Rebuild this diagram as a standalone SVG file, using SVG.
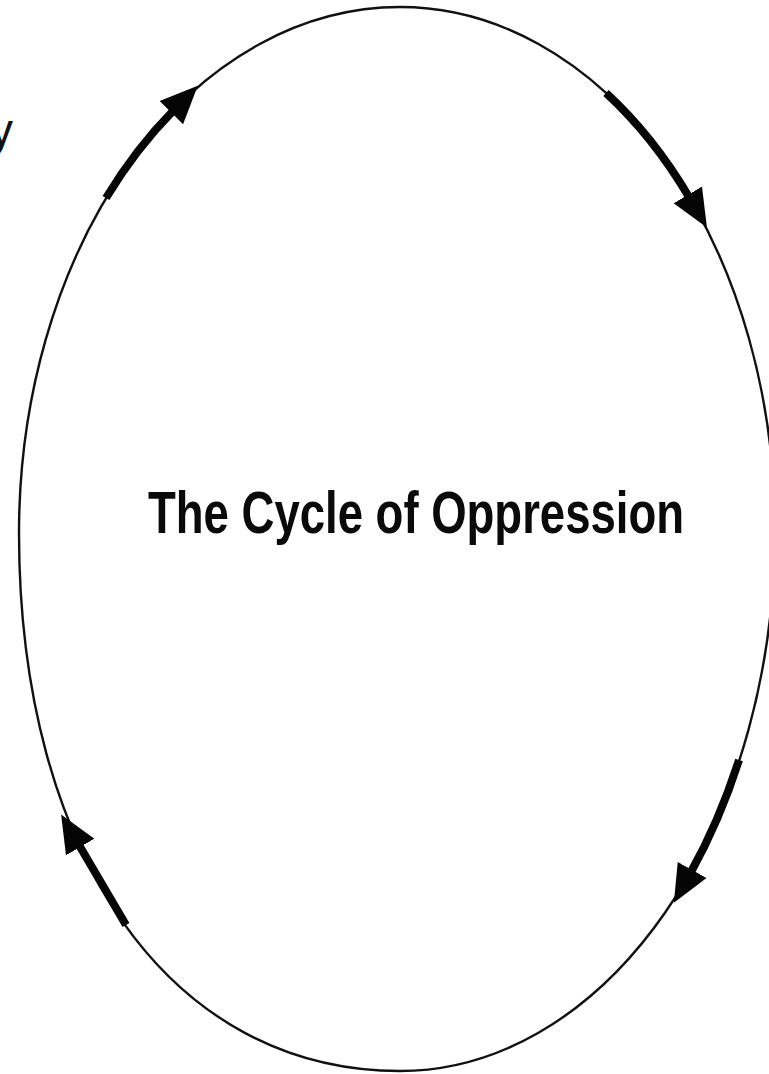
<svg xmlns="http://www.w3.org/2000/svg" width="769" height="1074" viewBox="0 0 769 1074">
<style>
.ring{fill:none;stroke:#111;stroke-width:2.4}
.thick{fill:none;stroke:#050505;stroke-width:8}
.title{font-family:"Liberation Sans",Arial,sans-serif;font-size:60px;font-weight:bold;fill:#0a0a0a}
.frag{font-family:"Liberation Sans",Arial,sans-serif;font-size:46px;fill:#111}
</style>
<defs>
<marker id="head" markerUnits="userSpaceOnUse" markerWidth="40" markerHeight="40" viewBox="0 -16 34 32" refX="2" refY="0" orient="auto">
<path d="M0,-14 L32,0 L0,14 z" fill="#050505"/>
</marker>
</defs>
<rect width="769" height="1074" fill="#fff"/>
<g id="cycle">
<path class="ring" d="M400,7 A375,523 0 0 1 775,530 A375,541 0 0 1 400,1071 C171,1071 19,856 19,533 A381,526 0 0 1 400,7 Z"/>
</g>
<g id="connectors">
<path class="thick" d="M106,198 A381,526 0 0 1 173,111" marker-end="url(#head)"/>
<path class="thick" d="M606,93 A375,523 0 0 1 689,197" marker-end="url(#head)"/>
<path class="thick" d="M739,760 A375,541 0 0 1 691,872" marker-end="url(#head)"/>
<path class="thick" d="M126,925 L79,845" marker-end="url(#head)"/>
</g>
<g id="title">
<text class="title" x="148" y="533" textLength="536" lengthAdjust="spacingAndGlyphs">The Cycle of Oppression</text>
</g>
<g id="fragment">
<text class="frag" x="13" y="146" text-anchor="end">y</text>
</g>
</svg>
